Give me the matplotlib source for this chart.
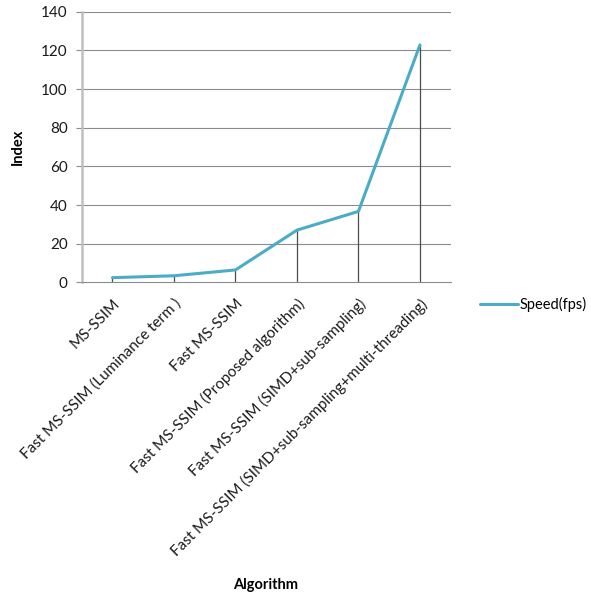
import numpy as np
import matplotlib.pyplot as plt

# speed of each MS-SSIM variant
algorithms = [
    "MS-SSIM",
    "Fast MS-SSIM (Luminance term )",
    "Fast MS-SSIM",
    "Fast MS-SSIM (Proposed algorithm)",
    "Fast MS-SSIM (SIMD+sub-sampling)",
    "Fast MS-SSIM (SIMD+sub-sampling+multi-threading)",
]
speed_fps = [2.4, 3.4, 6.4, 27.0, 36.7, 122.8]
y_ticks = [0, 20, 40, 60, 80, 100, 120, 140]

plt.rcParams['font.family'] = ['Lato', 'DejaVu Sans']

fig = plt.figure(figsize=(5.91, 5.94), dpi=100)
ax = fig.add_axes([0.1382, 0.5247, 0.6244, 0.4556])

x = np.arange(len(algorithms))

# horizontal gridlines
for t in y_ticks[1:]:
    ax.axhline(t, color='#8c8c8c', lw=0.8, zorder=1)

# drop lines from each point to the axis
ax.vlines(x, 0, speed_fps, color='#4d4d4d', lw=0.9, zorder=2)

ax.plot(x, speed_fps, color='#4BACC6', lw=2.2, solid_capstyle='round',
        label='Speed(fps)', zorder=3)

ax.set_xlim(-0.5, len(algorithms) - 0.5)
ax.set_ylim(0, 140)
ax.set_yticks(y_ticks)
ax.set_xticks(x)
ax.set_xticklabels(algorithms, rotation=45, ha='right', rotation_mode='anchor',
                   fontsize=11, color='#1a1a1a')
ax.tick_params(axis='x', length=0, pad=10)
ax.tick_params(axis='y', length=4, width=0.8, color='#8c8c8c',
               labelsize=11, labelcolor='#1a1a1a', pad=6)

for s in ['top', 'right']:
    ax.spines[s].set_visible(False)
ax.spines['left'].set_color('#c0c0c0')
ax.spines['left'].set_linewidth(1.8)
ax.spines['bottom'].set_color('#8c8c8c')
ax.spines['bottom'].set_linewidth(0.8)

ax.set_ylabel('Index', fontsize=10.5, fontweight='bold')
ax.yaxis.set_label_coords(-0.155, 0.5)
fig.text(0.45, 0.004, 'Algorithm', fontsize=10.5, fontweight='bold',
         ha='center', va='bottom')

fig.legend(loc='center left', bbox_to_anchor=(0.79, 0.487), frameon=False,
           fontsize=10.5, handlelength=2.6, handletextpad=0.1)

fig.savefig('out.png', dpi=100)
